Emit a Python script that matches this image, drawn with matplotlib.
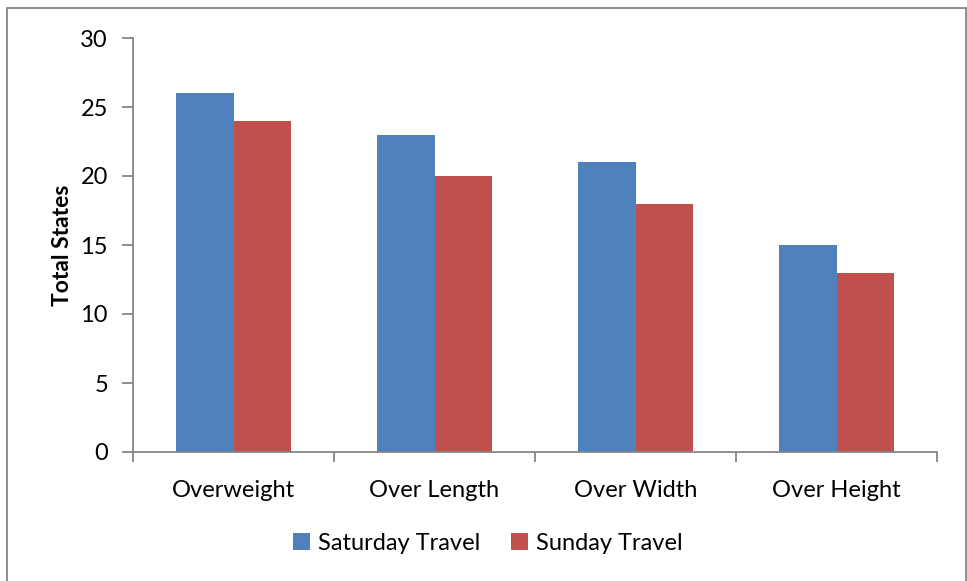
import matplotlib.pyplot as plt
import numpy as np
from matplotlib.patches import Rectangle

categories = ["Overweight", "Over Length", "Over Width", "Over Height"]
saturday = [26, 23, 21, 15]
sunday = [24, 20, 18, 13]
series_names = ["Saturday Travel", "Sunday Travel"]
y_ticks = [0, 5, 10, 15, 20, 25, 30]

blue = "#4F81BD"
red = "#C0504D"
axis_gray = "#868686"

plt.rcParams["font.family"] = ["Lato", "DejaVu Sans"]

fig = plt.figure(figsize=(9.67, 5.81), dpi=100)
W, H = 967, 581
ax = fig.add_axes([133 / W, 1 - 452 / H, (937 - 133) / W, (452 - 38) / H])

# outer chart border
fig.patches.append(Rectangle((7 / W, -0.01), (966 - 7) / W, 1 - 8 / H + 0.01,
                             transform=fig.transFigure, fill=False,
                             edgecolor=axis_gray, linewidth=1.3))

x = np.arange(len(categories))
bw = 0.286
ax.bar(x - bw / 2, saturday, bw, color=blue, label=series_names[0])
ax.bar(x + bw / 2, sunday, bw, color=red, label=series_names[1])

ax.set_xlim(-0.5, len(categories) - 0.5)
ax.set_ylim(0, 30)
ax.set_yticks(y_ticks)
ax.set_xticks(x)
ax.set_xticklabels(categories)
ax.tick_params(axis="x", length=0, pad=20, labelsize=17)
ax.set_xticks(np.arange(len(categories) + 1) - 0.5, minor=True)
ax.tick_params(axis="x", which="minor", length=7, width=1.3, color=axis_gray)
ax.tick_params(axis="y", length=8, width=1.3, color=axis_gray, pad=10, labelsize=17)

for s in ["top", "right"]:
    ax.spines[s].set_visible(False)
for s in ["left", "bottom"]:
    ax.spines[s].set_color(axis_gray)
    ax.spines[s].set_linewidth(1.3)

ax.set_ylabel("Total States", fontsize=16.5, fontweight="bold", labelpad=5)

leg = fig.legend(loc="center", bbox_to_anchor=(488 / W, 1 - 543 / H), ncol=2,
                 frameon=False, fontsize=17, handlelength=0.7, handleheight=0.7,
                 handletextpad=0.35, columnspacing=1.3)

fig.savefig("out.png", dpi=100)
